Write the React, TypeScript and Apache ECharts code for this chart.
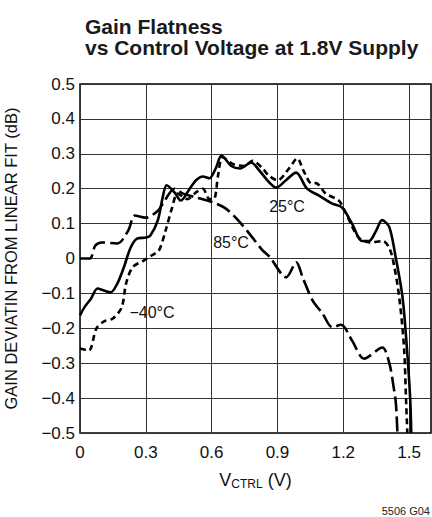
import React, { useEffect, useRef } from "react";
import * as echarts from "echarts";

const FONT = "'Liberation Sans', Arial, Helvetica, sans-serif";

const titleLines = ["Gain Flatness", "vs Control Voltage at 1.8V Supply"];
const yAxisTitle = "GAIN DEVIATIN FROM LINEAR FIT (dB)";
const figureCode = "5506 G04";

// 25°C (solid)
const x25 = [0, 0.02, 0.05, 0.08, 0.11, 0.14, 0.17, 0.2, 0.23, 0.26, 0.3, 0.32, 0.355, 0.377, 0.395, 0.43, 0.46, 0.5, 0.53, 0.56, 0.59, 0.62, 0.645, 0.69, 0.73, 0.78, 0.82, 0.86, 0.895, 0.94, 0.985, 1.035, 1.09, 1.15, 1.195, 1.24, 1.286, 1.318, 1.35, 1.377, 1.41, 1.44, 1.47, 1.49, 1.505, 1.51];
const y25 = [-0.163, -0.14, -0.115, -0.086, -0.092, -0.097, -0.072, -0.025, 0.03, 0.057, 0.06, 0.065, 0.11, 0.175, 0.21, 0.19, 0.166, 0.2, 0.225, 0.235, 0.23, 0.26, 0.295, 0.265, 0.258, 0.275, 0.25, 0.22, 0.203, 0.225, 0.246, 0.2, 0.18, 0.157, 0.146, 0.1, 0.05, 0.05, 0.08, 0.11, 0.09, 0.0, -0.11, -0.255, -0.4, -0.5];

// -40°C (short dash)
const xM40 = [0, 0.04, 0.075, 0.11, 0.15, 0.19, 0.21, 0.24, 0.29, 0.33, 0.36, 0.39, 0.42, 0.445, 0.49, 0.53, 0.56, 0.59, 0.61, 0.63, 0.65, 0.7, 0.75, 0.786, 0.83, 0.86, 0.9, 0.955, 0.99, 1.02, 1.055, 1.075, 1.12, 1.18, 1.21, 1.27, 1.32, 1.38, 1.41, 1.43, 1.455, 1.477, 1.486, 1.492];
const yM40 = [-0.258, -0.264, -0.2, -0.18, -0.172, -0.14, -0.072, -0.025, -0.006, 0.01, 0.023, 0.08, 0.146, 0.186, 0.17, 0.19, 0.2, 0.17, 0.17, 0.24, 0.29, 0.27, 0.265, 0.28, 0.26, 0.238, 0.224, 0.26, 0.287, 0.25, 0.215, 0.216, 0.186, 0.166, 0.132, 0.06, 0.046, 0.05, 0.03, -0.015, -0.11, -0.255, -0.4, -0.5];

// 85°C (long dash)
const x85 = [0, 0.045, 0.07, 0.1, 0.17, 0.22, 0.25, 0.3, 0.355, 0.386, 0.43, 0.47, 0.53, 0.6, 0.66, 0.72, 0.78, 0.83, 0.864, 0.94, 0.986, 1.015, 1.06, 1.106, 1.15, 1.19, 1.24, 1.295, 1.378, 1.41, 1.43, 1.44, 1.447];
const y85 = [0, 0, 0.037, 0.046, 0.043, 0.08, 0.123, 0.117, 0.137, 0.166, 0.2, 0.186, 0.175, 0.162, 0.145, 0.11, 0.065, 0.025, 0.005, -0.054, -0.011, -0.054, -0.12, -0.158, -0.197, -0.19, -0.235, -0.287, -0.255, -0.3, -0.37, -0.415, -0.5];

const zip = (xs: number[], ys: number[]) => xs.map((x, i) => [x, ys[i]]);

const fmt = (v: number) => {
  if (Math.abs(v) < 1e-9) return "0";
  return (v < 0 ? "\u2212" : "") + Math.abs(v).toFixed(1);
};

export default function App() {
  const ref = useRef<HTMLDivElement>(null);
  useEffect(() => {
    if (!ref.current) return;
    const chart = echarts.init(ref.current, undefined, { renderer: "svg" });
    const labelStyle = {
      fontFamily: FONT,
      fontSize: 16,
      fill: "#111",
      backgroundColor: "#fff",
      padding: [1, 2],
    };
    chart.setOption({
      animation: false,
      backgroundColor: "#fff",
      title: {
        text: titleLines.join("\n"),
        left: 80,
        top: 11,
        textStyle: {
          fontFamily: FONT,
          fontSize: 21,
          fontWeight: "bold",
          lineHeight: 21,
          color: "#1a1a1a",
        },
      },
      grid: {
        left: 80,
        right: 1,
        top: 84,
        bottom: 84,
        show: true,
        borderColor: "#000",
        borderWidth: 1.5,
        backgroundColor: "transparent",
        containLabel: false,
        outerBoundsMode: "none",
      },
      xAxis: {
        type: "value",
        min: 0,
        max: 1.6,
        interval: 0.3,
        name: "{v|V}{s|CTRL}{v| (V)}",
        nameLocation: "middle",
        nameGap: 36,
        nameTextStyle: {
          rich: {
            v: { fontFamily: FONT, fontSize: 18, color: "#111", lineHeight: 22 },
            s: { fontFamily: FONT, fontSize: 12, color: "#111", lineHeight: 22, padding: [7, 0, 0, 0] },
          },
        },
        axisLine: { show: false },
        axisTick: { show: false },
        splitLine: { show: true, lineStyle: { color: "#333", width: 1 } },
        axisLabel: {
          fontFamily: FONT,
          fontSize: 17,
          color: "#111",
          margin: 11,
          showMaxLabel: false,
          formatter: (v: number) => (v > 1.55 ? "" : fmt(v)),
        },
      },
      yAxis: {
        type: "value",
        min: -0.5,
        max: 0.5,
        interval: 0.1,
        name: yAxisTitle,
        nameLocation: "middle",
        nameRotate: 90,
        nameGap: 61,
        nameTextStyle: { fontFamily: FONT, fontSize: 16.5, color: "#111" },
        axisLine: { show: false },
        axisTick: { show: false },
        splitLine: { show: true, lineStyle: { color: "#333", width: 1 } },
        axisLabel: {
          fontFamily: FONT,
          fontSize: 17,
          color: "#111",
          margin: 5,
          formatter: fmt,
        },
      },
      series: [
        {
          name: "25°C",
          type: "line",
          data: zip(x25, y25),
          smooth: 0.3,
          showSymbol: false,
          lineStyle: { color: "#000", width: 2.6, type: "solid" },
        },
        {
          name: "−40°C",
          type: "line",
          data: zip(xM40, yM40),
          smooth: 0.3,
          showSymbol: false,
          lineStyle: { color: "#000", width: 2.6, type: [6, 4] },
        },
        {
          name: "85°C",
          type: "line",
          data: zip(x85, y85),
          smooth: 0.3,
          showSymbol: false,
          lineStyle: { color: "#000", width: 2.6, type: [15, 5] },
        },
      ],
      graphic: [
        { type: "text", x: 287, y: 206, style: { ...labelStyle, text: "25°C", align: "center", verticalAlign: "middle" } },
        { type: "text", x: 231, y: 242, style: { ...labelStyle, text: "85°C", align: "center", verticalAlign: "middle" } },
        { type: "text", x: 152, y: 312, style: { ...labelStyle, text: "\u221240°C", align: "center", verticalAlign: "middle" } },
        { type: "text", x: 430, y: 511, style: { fontFamily: FONT, fontSize: 11, fill: "#222", text: figureCode, align: "right", verticalAlign: "middle" } },
      ],
    });
    return () => chart.dispose();
  }, []);
  return <div ref={ref} style={{ width: 432, height: 517, position: "absolute", left: 0, top: 0 }} />;
}
